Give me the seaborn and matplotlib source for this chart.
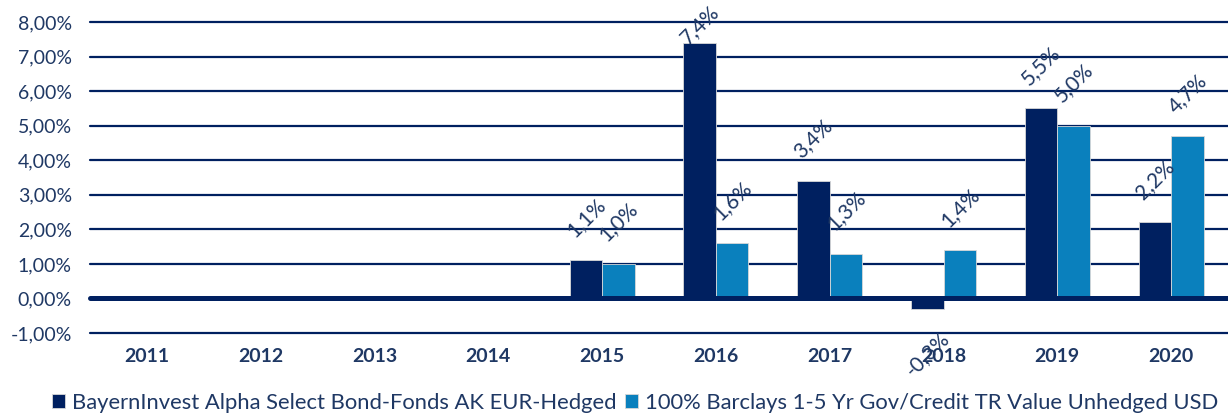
import numpy as np
import pandas as pd
import matplotlib
matplotlib.use("Agg")
import matplotlib.pyplot as plt
import seaborn as sns

years = ["2011", "2012", "2013", "2014", "2015", "2016", "2017", "2018", "2019", "2020"]
series_names = ["BayernInvest Alpha Select Bond-Fonds AK EUR-Hedged",
                "100% Barclays 1-5 Yr Gov/Credit TR Value Unhedged USD"]
fund = [np.nan, np.nan, np.nan, np.nan, 1.1, 7.4, 3.4, -0.3, 5.5, 2.2]
bench = [np.nan, np.nan, np.nan, np.nan, 1.0, 1.6, 1.3, 1.4, 5.0, 4.7]
yticks = [-1, 0, 1, 2, 3, 4, 5, 6, 7, 8]

NAVY = "#002060"
LIGHT = "#0a80bd"
TXT = "#1f3864"

df = pd.DataFrame({
    "year": years * 2,
    "series": [series_names[0]] * len(years) + [series_names[1]] * len(years),
    "value": fund + bench,
})

sns.set_theme(style="white")
plt.rcParams["font.family"] = ["Lato", "DejaVu Sans"]

fig = plt.figure(figsize=(12.28, 4.16), dpi=100)
ax = fig.add_axes([90 / 1228, 1 - 333 / 416, 1138 / 1228, 311 / 416])

sns.barplot(data=df, x="year", y="value", hue="series", order=years,
            hue_order=series_names, palette=[NAVY, LIGHT], width=0.57,
            saturation=1, edgecolor="#d8d8d8", linewidth=0.6, ax=ax,
            zorder=3, errorbar=None)

ax.set_xlim(-0.5, len(years) - 0.5)
ax.set_ylim(-1, 8)
for t in yticks:
    ax.axhline(t, color=NAVY, lw=1.6 if t != 0 else 3.6,
               zorder=2 if t != 0 else 4, clip_on=False)

ax.set_yticks(yticks)
ax.set_yticklabels([f"{t:.2f}%".replace(".", ",") for t in yticks],
                   fontsize=14, color=TXT)
ax.set_xticks(range(len(years)))
ax.set_xticklabels(years, fontsize=14, fontweight="bold", color=TXT)
ax.tick_params(axis="y", length=0, pad=13)
ax.tick_params(axis="x", length=0, pad=11)
ax.set_xlabel("")
ax.set_ylabel("")
for s in ax.spines.values():
    s.set_visible(False)

annots = []
for cont in ax.containers:
    for bar in cont:
        v = bar.get_height()
        if np.isnan(v):
            continue
        x = bar.get_x() + bar.get_width() / 2
        lab = f"{v:.1f}%".replace(".", ",")
        if v >= 0:
            a = ax.annotate(lab, (x, bar.get_y() + v), xytext=(0, 14),
                            textcoords="offset points", rotation=45, ha="center",
                            va="bottom", fontsize=15, color=TXT, zorder=6)
        else:
            a = ax.annotate(lab, (x, bar.get_y() + v), xytext=(0, -14),
                            textcoords="offset points", rotation=45, ha="center",
                            va="top", fontsize=15, color=TXT, zorder=6)
        annots.append(a)

# keep labels inside the figure (as the original chart does)
fig.canvas.draw()
renderer = fig.canvas.get_renderer()
H = fig.bbox.height
for a in annots:
    bb = a.get_window_extent(renderer)
    if bb.y1 > H - 1:
        shift = (bb.y1 - (H - 1)) * 72 / fig.dpi
        ox, oy = a.xyann
        a.xyann = (ox, oy - shift)

handles, labels = ax.get_legend_handles_labels()
if ax.get_legend() is not None:
    ax.get_legend().remove()
fig.legend(handles, labels, loc="center", bbox_to_anchor=(635 / 1228, 1 - 403 / 416),
           ncol=2, frameon=False, handlelength=0.6, handleheight=0.6,
           handletextpad=0.3, columnspacing=0.4, fontsize=15.8,
           labelcolor=TXT)

fig.savefig("out.png", dpi=100)
